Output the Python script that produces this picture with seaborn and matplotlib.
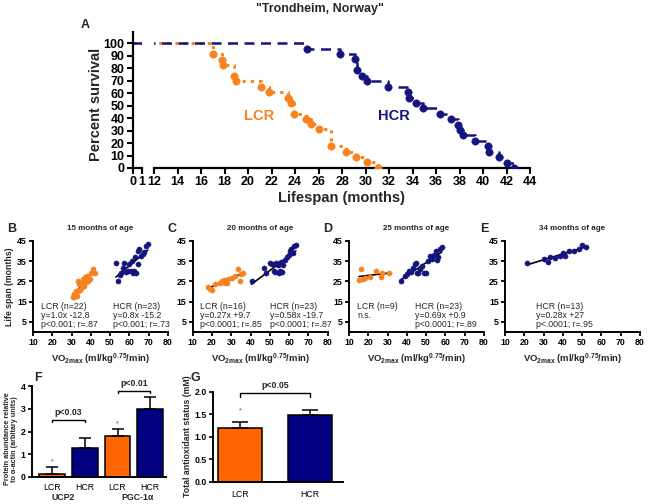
import numpy as np
import pandas as pd
import seaborn as sns
import matplotlib.pyplot as plt

sns.set_style('ticks')
plt.rcParams['font.family'] = ['Liberation Sans', 'DejaVu Sans']
plt.rcParams['mathtext.fontset'] = 'custom'
plt.rcParams['mathtext.rm'] = 'Liberation Sans:bold'
plt.rcParams['mathtext.bf'] = 'Liberation Sans:bold'
plt.rcParams['axes.edgecolor'] = 'black'
plt.rcParams['xtick.color'] = 'black'
plt.rcParams['ytick.color'] = 'black'

ORANGE = '#F7821F'
NAVY = '#14147F'
BAR_OR = '#FF6600'
BAR_NV = '#000080'

# ---- survival (panel A) ----
lcr_t = [0, 17.0, 17.8, 17.9, 18.8, 19.0, 21.1, 21.8, 23.4, 23.7, 23.9, 24.9, 25.4, 26.0, 27.1, 28.3, 29.2, 30.1, 31.1]
lcr_s = [100, 91.5, 86.7, 82.7, 73.7, 69.4, 64.9, 60.9, 56.4, 52.1, 43.6, 39.6, 35.1, 30.9, 17.8, 13.0, 8.8, 4.5, 0]
hcr_t = [0, 25.0, 27.8, 29.1, 29.3, 29.7, 30.1, 31.9, 33.6, 33.7, 34.3, 34.9, 36.3, 37.3, 37.9, 38.0, 38.3, 39.3,
         40.4, 40.5, 41.4, 42.0, 42.6]
hcr_s = [100, 95.7, 91.3, 87.0, 78.3, 73.9, 69.6, 65.2, 60.9, 56.5, 52.2, 47.8, 43.5, 39.1, 34.8, 30.4, 26.1, 21.7,
         17.4, 13.0, 8.7, 4.3, 0]

# ---- VO2max vs life span (panels B-E) ----
b_lcr_x = [30.5, 31, 31.5, 32, 32.5, 33, 33.3, 33.5, 34, 34.5, 35, 35.5, 36, 36.7, 37, 37.5, 38, 38.4, 39.3, 40.2, 41, 41.9]
b_lcr_y = [17.5, 18.7, 17.5, 19, 20.5, 18, 20.3, 25, 23.5, 21, 23.6, 22.5, 26, 22.8, 27, 24.5, 27.5, 25.3, 26.1, 29.4, 31, 29.4]
b_hcr_x = [53, 54, 55, 55.7, 56.5, 57.4, 58, 59, 60, 60.9, 61.5, 62, 62.6, 63, 63.4, 64.3, 64.3, 65.2, 66, 66.9, 67.5, 68.6, 69.5]
b_hcr_y = [34.3, 25.3, 28, 29.4, 31.5, 34.3, 29.5, 30, 33.5, 30.2, 35, 29, 30.2, 37, 29.4, 33.5, 40, 40.9, 37.6, 38.4, 39.5, 42.5, 43.4]

c_lcr_x = [18, 19, 20, 21.5, 24, 25, 26.2, 27, 27.6, 28.4, 30.2, 31.9, 33.3, 34.5, 35, 36.2]
c_lcr_y = [22.5, 21.5, 21, 23.6, 24, 25.3, 25.8, 24, 24.4, 26.1, 26.9, 27.7, 31.3, 25.3, 28.6, 29.4]
c_hcr_x = [40.5, 47, 48, 50, 51, 52, 52.5, 53, 54, 54.5, 55, 55.5, 56, 56.5, 57, 58, 59, 60, 60.5, 61, 62, 62.5, 63.5]
c_hcr_y = [25, 31.5, 29, 34, 33.5, 30, 29.5, 34, 33, 29, 33.5, 30, 34.5, 29.5, 33, 35.5, 37, 38, 40, 41, 39, 42.5, 43]

d_lcr_x = [15.2, 16.4, 17.2, 18.4, 20.7, 23.8, 26.7, 27.2, 30.7]
d_lcr_y = [25.8, 31.3, 26.4, 26.9, 27.2, 30.2, 27.2, 29, 29.4]
d_hcr_x = [37, 39, 40, 41, 42, 43, 44, 44.5, 45, 46, 47, 48, 49, 50, 51, 52, 53, 54, 55, 55.5, 56, 57, 58]
d_hcr_y = [25, 27.5, 28.5, 30, 29.5, 31.5, 33.5, 34, 29, 29, 31, 32.5, 29, 29, 35, 37.5, 36, 38, 40, 35.5, 37, 41, 42]

e_hcr_x = [21.2, 30, 32.5, 33.3, 35.8, 38.3, 40, 41.3, 43.3, 45.8, 48.3, 50, 52]
e_hcr_y = [34.3, 36, 34.8, 37.3, 36.8, 37.6, 38.9, 37.6, 40, 40, 40.9, 42.9, 42.2]

# ---- bars (panels F, G) ----
f_bars = ['UCP2 LCR', 'UCP2 HCR', 'PGC LCR', 'PGC HCR']
f_ticks = ['LCR', 'HCR', 'LCR', 'HCR']
f_means = [0.15, 1.27, 1.8, 3.0]
f_errs = [0.30, 0.43, 0.30, 0.50]
g_bars = ['LCR', 'HCR']
g_means = [1.18, 1.49]
g_errs = [0.15, 0.09]

W, H = 650, 504
fig = plt.figure(figsize=(W / 100, H / 100), dpi=100)


def rect(x0, x1, ytop, ybot):
    return [x0 / W, 1 - ybot / H, (x1 - x0) / W, (ybot - ytop) / H]


def ftext(x, y, s, **kw):
    fig.text(x / W, 1 - y / H, s, **kw)


# ================= Panel A =================
A0_L, A0_R = 133, 141.5
ax_a0 = fig.add_axes(rect(A0_L, A0_R, 32, 168))
ax_a1 = fig.add_axes(rect(154, 530, 32, 168))
for ax in (ax_a0, ax_a1):
    sns.lineplot(x=lcr_t, y=lcr_s, drawstyle='steps-post', estimator=None, sort=False,
                 color=ORANGE, linestyle=':', lw=2.2, ax=ax)
    sns.lineplot(x=hcr_t, y=hcr_s, drawstyle='steps-post', estimator=None, sort=False,
                 color=NAVY, linestyle=(0, (4, 2.6)), lw=1.8, ax=ax)
    sns.scatterplot(x=lcr_t[1:], y=lcr_s[1:], color=ORANGE, s=28, edgecolor=ORANGE, ax=ax, zorder=3)
    sns.scatterplot(x=hcr_t[1:], y=hcr_s[1:], color=NAVY, s=28, edgecolor=NAVY, ax=ax, zorder=3)
    ax.set_ylim(0, 109)
    ax.tick_params(width=1.5, length=4, labelsize=9, pad=2)

ax_a0.set_xlim(0, 1)
ax_a0.set_xticks([0, 1])
ax_a0.set_xticklabels(['0', '1'], fontweight='bold', fontsize=9)
ax_a0.set_yticks(range(0, 101, 10))
ax_a0.set_yticklabels([str(v) for v in range(0, 101, 10)], fontweight='bold', fontsize=9)
ax_a0.set_ylabel('Percent survival', fontweight='bold', fontsize=10.5)
ax_a0.yaxis.set_label_coords((103 - A0_L) / (A0_R - A0_L), 0.47)
sns.despine(ax=ax_a0)
for sp in ('left', 'bottom'):
    ax_a0.spines[sp].set_linewidth(1.6)

ax_a1.set_xlim(12, 44)
ax_a1.set_xticks(range(12, 45, 2))
ax_a1.set_xticklabels([str(v) for v in range(12, 45, 2)], fontweight='bold', fontsize=9)
ax_a1.set_yticks([])
ax_a1.set_xlabel('Lifespan (months)', fontweight='bold', fontsize=10.5, labelpad=2)
sns.despine(ax=ax_a1, left=True)
ax_a1.spines['bottom'].set_linewidth(1.6)
ax_a1.patch.set_alpha(0)
ax_a1.text(20.9, 42, 'LCR', color=ORANGE, fontweight='bold', fontsize=10.5, ha='center', va='center')
ax_a1.text(32.4, 42, 'HCR', color=NAVY, fontweight='bold', fontsize=10.5, ha='center', va='center')

ftext(320, 9, '"Trondheim, Norway"', ha='center', va='center', fontweight='bold', fontsize=9)
ftext(85, 25, 'A', ha='center', va='center', fontweight='bold', fontsize=9)

# ================= Panels B-E =================
panels = [
    ('B', '15 months of age', 33, b_lcr_x, b_lcr_y, b_hcr_x, b_hcr_y,
     'LCR (n=22)\ny=1.0x -12.8\np<0.001; r=.87', 14.3, 'HCR (n=23)\ny=0.8x -15.2\np<0.001; r=.73', 51.4),
    ('C', '20 months of age', 192.7, c_lcr_x, c_lcr_y, c_hcr_x, c_hcr_y,
     'LCR (n=16)\ny=0.27x +9.7\np<0.0001; r=.85', 13.8, 'HCR (n=23)\ny=0.58x -19.7\np<0.0001; r=.87', 50),
    ('D', '25 months of age', 349, d_lcr_x, d_lcr_y, d_hcr_x, d_hcr_y,
     'LCR (n=9)\nn.s.', 14.2, 'HCR (n=23)\ny=0.69x +0.9\np<0.0001; r=.89', 44),
    ('E', '34 months of age', 505, None, None, e_hcr_x, e_hcr_y,
     None, None, 'HCR (n=13)\ny=0.28x +27\np<.0001; r=.95', 26),
]

for letter, title, x0, lx, ly, hx, hy, ltxt, lpos, htxt, hpos in panels:
    ax = fig.add_axes(rect(x0, x0 + 135, 241, 332))
    if lx is not None:
        sns.scatterplot(x=lx, y=ly, color=ORANGE, edgecolor=ORANGE, s=14, ax=ax, zorder=3)
        sns.regplot(x=lx, y=ly, ci=None, scatter=False, truncate=True,
                    line_kws=dict(color='black', lw=1.2), ax=ax)
        ax.text(lpos, 15, ltxt, fontsize=6.3, va='top', ha='left', linespacing=1.05)
    sns.scatterplot(x=hx, y=hy, color=NAVY, edgecolor=NAVY, s=14, ax=ax, zorder=3)
    sns.regplot(x=hx, y=hy, ci=None, scatter=False, truncate=True,
                line_kws=dict(color='black', lw=1.2), ax=ax)
    ax.text(hpos, 15, htxt, fontsize=6.3, va='top', ha='left', linespacing=1.05)
    ax.set_xlim(10, 80)
    ax.set_ylim(0, 45)
    ax.set_xticks(range(10, 81, 10))
    ax.set_yticks([5, 15, 25, 35, 45])
    ax.tick_params(width=1.3, length=3, labelsize=6.3, pad=1.5)
    for lab in ax.get_xticklabels() + ax.get_yticklabels():
        lab.set_fontweight('bold')
    ax.set_xlabel(r'VO$_{\mathbf{2max}}$ (ml/kg$^{\mathbf{0.75}}$/min)', fontweight='bold', fontsize=6.8, labelpad=3)
    if letter == 'B':
        ax.set_ylabel('Life span (months)', fontweight='bold', fontsize=6.3, labelpad=2)
    else:
        ax.set_ylabel('')
    sns.despine(ax=ax)
    for sp in ('left', 'bottom'):
        ax.spines[sp].set_linewidth(1.4)
    ftext(x0 - 21, 229, letter, ha='center', va='center', fontweight='bold', fontsize=9)
    ftext(x0 + 67, 229, title, ha='center', va='center', fontweight='bold', fontsize=5.8)

# ================= Panel F =================
ax_f = fig.add_axes(rect(31.7, 166, 386, 477))
df_f = pd.DataFrame({'bar': f_bars, 'val': f_means})
sns.barplot(data=df_f, x='bar', y='val', hue='bar', palette=[BAR_OR, BAR_NV, BAR_OR, BAR_NV],
            saturation=1, width=0.79, edgecolor='black', linewidth=1.1, errorbar=None, legend=False, ax=ax_f)
ax_f.errorbar(range(4), f_means, yerr=[[0] * 4, f_errs], fmt='none', ecolor='black',
              elinewidth=1.1, capsize=4, capthick=1.1, zorder=4)
ax_f.set_xlim(-0.62, 3.48)
ax_f.set_ylim(0, 4)
ax_f.set_yticks(range(0, 5))
ax_f.set_xticks(range(4))
ax_f.set_xticklabels(f_ticks, fontsize=6.3)
ax_f.set_xlabel('')
ax_f.set_ylabel('Protein abundance relative\nto \u03b1-actin (arbitary units)', fontweight='bold', fontsize=5.2,
                labelpad=2, linespacing=1.15)
ax_f.yaxis.set_label_coords(-0.1, 0.42)
ax_f.tick_params(axis='y', width=1.2, length=3, labelsize=6.3, pad=1.5)
ax_f.tick_params(axis='x', length=0, pad=4)
for lab in ax_f.get_yticklabels():
    lab.set_fontweight('bold')
sns.despine(ax=ax_f)
for sp in ('left', 'bottom'):
    ax_f.spines[sp].set_linewidth(1.4)
for i in (0, 2):
    ax_f.text(i, f_means[i] + f_errs[i] + 0.22, '*', ha='center', va='center', fontsize=5, color='#444444')
ax_f.plot([0, 0, 1, 1], [2.42, 2.52, 2.52, 2.42], color='black', lw=1, clip_on=False)
ax_f.text(0.5, 2.62, 'p<0.03', ha='center', va='bottom', fontsize=6.3, fontweight='bold')
ax_f.plot([2, 2, 3, 3], [3.68, 3.78, 3.78, 3.68], color='black', lw=1, clip_on=False)
ax_f.text(2.5, 3.9, 'p<0.01', ha='center', va='bottom', fontsize=6.3, fontweight='bold', clip_on=False)
ftext(63, 497, 'UCP2', ha='center', va='center', fontweight='bold', fontsize=6.3)
ftext(137, 497, 'PGC-1\u03b1', ha='center', va='center', fontweight='bold', fontsize=6.3)
ftext(38, 378, 'F', ha='center', va='center', fontweight='bold', fontsize=9)

# ================= Panel G =================
ax_g = fig.add_axes(rect(213, 343, 391.5, 481.7))
df_g = pd.DataFrame({'bar': g_bars, 'val': g_means})
sns.barplot(data=df_g, x='bar', y='val', hue='bar', palette=[BAR_OR, BAR_NV], saturation=1, width=0.64,
            edgecolor='black', linewidth=1.1, errorbar=None, legend=False, ax=ax_g)
ax_g.errorbar(range(2), g_means, yerr=[[0] * 2, g_errs], fmt='none', ecolor='black',
              elinewidth=1.1, capsize=6, capthick=1.1, zorder=4)
ax_g.set_xlim(-0.386, 1.47)
ax_g.set_ylim(0, 2.0)
ax_g.set_yticks([0, 0.5, 1.0, 1.5, 2.0])
ax_g.set_yticklabels(['0.0', '0.5', '1.0', '1.5', '2.0'], fontweight='bold')
ax_g.set_xlabel('')
ax_g.set_ylabel('Total antioxidant status (mM)', fontweight='bold', fontsize=6.3, labelpad=2)
ax_g.tick_params(axis='y', width=1.2, length=3, labelsize=6.3, pad=1.5)
ax_g.tick_params(axis='x', length=0, pad=6, labelsize=6.3)
sns.despine(ax=ax_g)
for sp in ('left', 'bottom'):
    ax_g.spines[sp].set_linewidth(1.4)
ax_g.text(0, g_means[0] + g_errs[0] + 0.24, '*', ha='center', va='center', fontsize=5, color='#444444')
ax_g.plot([0, 0, 1, 1], [1.88, 1.96, 1.96, 1.88], color='black', lw=1, clip_on=False)
ax_g.text(0.5, 2.04, 'p<0.05', ha='center', va='bottom', fontsize=6.3, fontweight='bold', clip_on=False)
ftext(195, 378, 'G', ha='center', va='center', fontweight='bold', fontsize=9)

fig.savefig('out.png', dpi=100)
